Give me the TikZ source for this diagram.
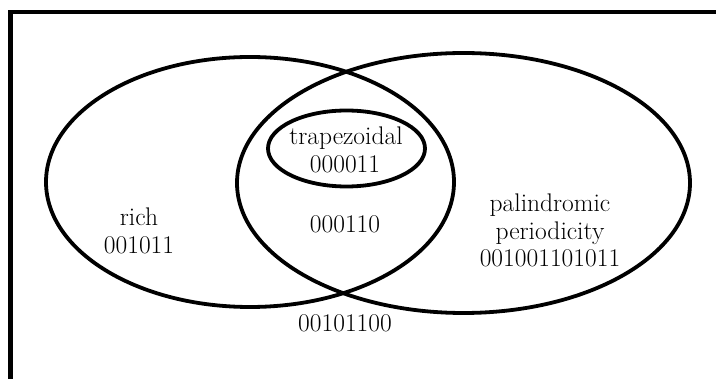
\documentclass[tikz,border=0pt]{standalone}
\usetikzlibrary{shapes.geometric}
\begin{document}
\begin{tikzpicture}[x=1pt,y=-1pt,
  set/.style={draw=black, line width=3.8pt, ellipse, inner sep=0pt, outer sep=0pt},
  lbl/.style={anchor=base, inner sep=0pt, font=\fontsize{25.5}{28}\selectfont}]
  \useasboundingbox (0,0) rectangle (716,379);
  \clip (0,0) rectangle (716,379);
  % outer frame (runs past the right and bottom edges)
  \draw[line width=4.8pt] (10.5,12) rectangle (740,400);
  % the three sets
  \node[set, minimum width=408pt, minimum height=250pt] (rich) at (250,182) {};
  \node[set, minimum width=453pt, minimum height=260pt] (pal) at (463.5,183) {};
  \node[set, minimum width=157pt, minimum height=76pt] (trap) at (346.5,148.5) {};
  % labels
  \node[lbl] (t1) at (346,145) {trapezoidal};
  \node[lbl] (t2) at (345,173) {000011};
  \node[lbl] (c1) at (345,233) {000110};
  \node[lbl] (r1) at (139,226) {rich};
  \node[lbl] (r2) at (139,254) {001011};
  \node[lbl] (p1) at (550,212) {palindromic};
  \node[lbl] (p2) at (550,239.5) {periodicity};
  \node[lbl] (p3) at (550,267) {001001101011};
  \node[lbl] (o1) at (345,332) {00101100};
\end{tikzpicture}
\end{document}
